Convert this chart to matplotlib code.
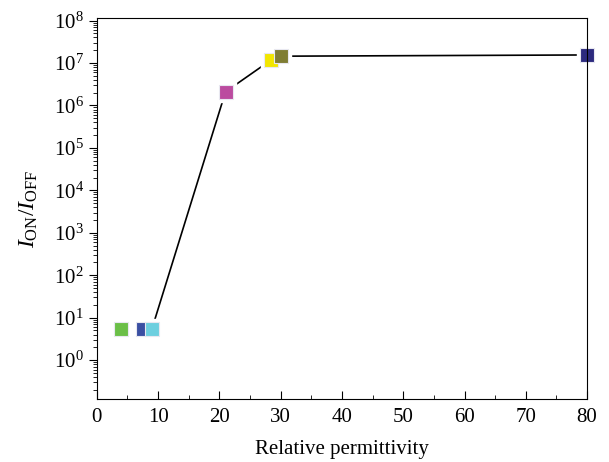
import matplotlib
matplotlib.use("Agg")
import matplotlib.pyplot as plt
from matplotlib.ticker import LogLocator, MultipleLocator

plt.rcParams['font.family'] = 'Liberation Serif'
plt.rcParams['mathtext.fontset'] = 'custom'
plt.rcParams['mathtext.rm'] = 'Liberation Serif'
plt.rcParams['mathtext.it'] = 'Liberation Serif:italic'

# relative permittivity and on/off ratio of each dielectric
permittivity = [4, 7.5, 9, 21, 28.5, 30, 80]
on_off = [5.5, 5.5, 5.5, 2.1e6, 1.2e7, 1.45e7, 1.55e7]
colors = ['#6bbf47', '#3a4fa2', '#6dcfdf', '#bb4b9f', '#f2e600', '#7f7d33', '#2c2a7e']

# the connecting line only runs through the high-k points
line_idx = [2, 3, 4, 5, 6]

fig = plt.figure(figsize=(6.09, 4.62), dpi=100)
ax = fig.add_axes([0.159, 0.136, 0.805, 0.825])

ax.plot([permittivity[i] for i in line_idx], [on_off[i] for i in line_idx],
        color='black', lw=1.2, zorder=1)
# white pads behind the symbols give the line its gap
ax.plot(permittivity, on_off, marker='s', ms=15, color='white',
        linestyle='none', zorder=1.5, clip_on=False)
for x, y, c in zip(permittivity, on_off, colors):
    ax.plot(x, y, marker='s', ms=10, color=c, mec='#e8e8f0', mew=0.8,
            linestyle='none', zorder=2, clip_on=False)

ax.set_yscale('log')
ax.set_xlim(0, 80)
ax.set_ylim(0.12, 1.15e8)
ax.xaxis.set_major_locator(MultipleLocator(10))
ax.xaxis.set_minor_locator(MultipleLocator(5))
ax.yaxis.set_major_locator(LogLocator(base=10, numticks=20))
ax.yaxis.set_minor_locator(LogLocator(base=10, subs=range(2, 10), numticks=20))

ax.tick_params(axis='x', which='both', direction='in', top=False, labelsize=15, pad=6)
ax.tick_params(axis='x', which='major', length=6)
ax.tick_params(axis='x', which='minor', length=3)
ax.tick_params(axis='y', which='both', direction='out', right=False, labelsize=15)
ax.tick_params(axis='y', which='major', length=6)
ax.tick_params(axis='y', which='minor', length=3)

ax.set_xlabel('Relative permittivity', fontsize=15, labelpad=10)
ax.set_ylabel(r'$I_{\rm ON}/I_{\rm OFF}$', fontsize=17, labelpad=10)

fig.savefig('out.png', dpi=100)
